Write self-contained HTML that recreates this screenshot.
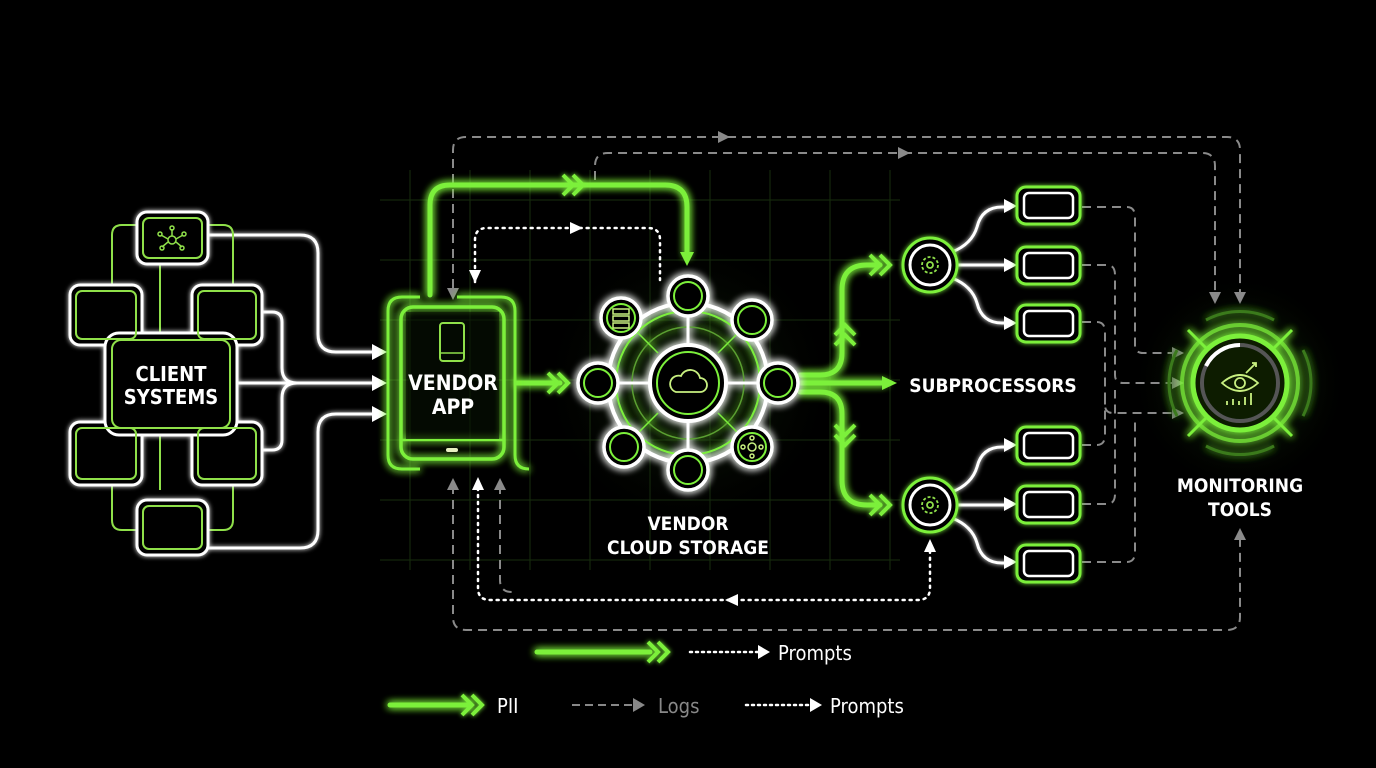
<!DOCTYPE html>
<html><head><meta charset="utf-8"><style>
html,body{margin:0;padding:0;background:#000;}
svg{display:block}
text{font-family:"DejaVu Sans Condensed","Liberation Sans",sans-serif;font-weight:bold;fill:#fff}
</style></head><body>
<svg width="1376" height="768" viewBox="0 0 1376 768" xmlns="http://www.w3.org/2000/svg">
<defs>
<filter id="g" x="-50%" y="-50%" width="200%" height="200%"><feGaussianBlur stdDeviation="4" result="b"/><feMerge><feMergeNode in="b"/><feMergeNode in="b"/><feMergeNode in="SourceGraphic"/></feMerge></filter>
<filter id="gs" x="-50%" y="-50%" width="200%" height="200%"><feGaussianBlur stdDeviation="2.5" result="b"/><feMerge><feMergeNode in="b"/><feMergeNode in="SourceGraphic"/></feMerge></filter>
<radialGradient id="mg" cx="50%" cy="50%" r="50%"><stop offset="0" stop-color="#3a8a1a" stop-opacity="0.5"/><stop offset="1" stop-color="#000" stop-opacity="0"/></radialGradient>
<radialGradient id="cg" cx="50%" cy="50%" r="50%"><stop offset="0" stop-color="#2a5a14" stop-opacity="0.5"/><stop offset="1" stop-color="#000" stop-opacity="0"/></radialGradient>
</defs>
<rect width="1376" height="768" fill="#000"/>
<!-- grid -->
<g stroke="#1d3a12" stroke-width="1" opacity="0.8">
<path d="M410 170V570M470 170V570M530 170V570M590 170V570M650 170V570M710 170V570M770 170V570M830 170V570M890 170V570"/>
<path d="M380 200H900M380 260H900M380 320H900M380 380H900M380 440H900M380 500H900M380 560H900"/>
</g>
<circle cx="688" cy="383" r="150" fill="url(#cg)"/>
<circle cx="1240" cy="383" r="110" fill="url(#mg)"/>

<!-- grey dashed logs -->
<g fill="none" stroke="#8a8a8a" stroke-width="2" stroke-dasharray="9 6">
<path d="M453 288V150q0-13 13-13H1227q13 0 13 13V295"/>
<path d="M595 180V166q0-13 13-13H1202q13 0 13 13V295"/>
<path d="M453 485V617q0 13 13 13H1227q13 0 13-13V535"/>
<path d="M500 485V580q0 12 12 12"/>
<path d="M1082 207h45q8 0 8 10V345q0 8 8 8h30"/>
<path d="M1082 265h25q8 0 8 10V375q0 8 8 8h50"/>
<path d="M1082 322h15q8 0 8 10V405q0 8 8 8h60"/>
<path d="M1082 445h15q8 0 8-10V395"/>
<path d="M1082 504h25q8 0 8-10V390"/>
<path d="M1082 562h45q8 0 8-10V420"/>
</g>
<g fill="#8a8a8a">
<path d="M718 131l12 6-12 6z"/><path d="M898 147l12 6-12 6z"/>
<path d="M1234 292l6 12 6-12z"/><path d="M1209 292l6 12 6-12z"/>
<path d="M1172 347l12 6-12 6z"/><path d="M1172 377l12 6-12 6z"/><path d="M1172 407l12 6-12 6z"/>
<path d="M447 288l6 12 6-12z"/><path d="M447 490l6-12 6 12z"/><path d="M494 490l6-12 6 12z"/>
<path d="M1234 540l6-12 6 12z"/>
</g>

<!-- dotted prompts -->
<g fill="none" stroke="#fff" stroke-width="2.5" stroke-dasharray="2 5" stroke-linecap="round">
<path d="M475 282V240q0-12 12-12H648q12 0 12 12V280"/>
<path d="M478 488V588q0 12 12 12H918q12 0 12-12V548"/>
</g>
<g fill="#fff">
<path d="M570 222l13 6-13 6z"/><path d="M469 270l6 13 6-13z"/>
<path d="M472 490l6-13 6 13z"/><path d="M738 594l-13 6 13 6z"/><path d="M924 552l6-13 6 13z"/>
</g>

<!-- white client connectors -->
<g fill="none" stroke="#fff" stroke-width="3" filter="url(#gs)">
<path d="M208 235H300q18 0 18 18V334q0 18 18 18H375"/>
<path d="M237 383H375"/>
<path d="M262 312h10q10 0 10 10V368q0 15 15 15"/>
<path d="M262 450h10q10 0 10-10V398q0-15 15-15"/>
<path d="M208 548H300q18 0 18-18V432q0-18 18-18H375"/>
</g>
<g fill="#fff"><path d="M372 344l15 8-15 8z"/><path d="M372 375l15 8-15 8z"/><path d="M372 406l15 8-15 8z"/></g>

<!-- client systems boxes -->
<g fill="none" stroke="#8fe04a" stroke-width="2">
<path d="M160 263V490M160 263"/>
<path d="M137 225H122q-10 0-10 10V285M208 225h15q10 0 10 10V285"/>
<path d="M137 530H122q-10 0-10-10V485M208 530h15q10 0 10-10V485"/>
</g>
<g filter="url(#gs)">
<g fill="#000" stroke="#fff" stroke-width="3">
<rect x="137" y="212" width="71" height="52" rx="10"/>
<rect x="70" y="285" width="72" height="60" rx="10"/>
<rect x="192" y="285" width="70" height="60" rx="10"/>
<rect x="70" y="422" width="72" height="63" rx="10"/>
<rect x="192" y="422" width="70" height="63" rx="10"/>
<rect x="137" y="500" width="71" height="55" rx="10"/>
<rect x="105" y="333" width="132" height="102" rx="14"/>
</g>
<g fill="none" stroke="#8fe04a" stroke-width="2">
<rect x="143" y="218" width="59" height="40" rx="6"/>
<rect x="76" y="291" width="60" height="48" rx="6"/>
<rect x="198" y="291" width="58" height="48" rx="6"/>
<rect x="76" y="428" width="60" height="51" rx="6"/>
<rect x="198" y="428" width="58" height="51" rx="6"/>
<rect x="143" y="506" width="59" height="43" rx="6"/>
<rect x="112" y="340" width="118" height="88" rx="9"/>
</g>
</g>
<g stroke="#8fe04a" stroke-width="1.5" fill="none">
<circle cx="172" cy="240" r="4"/><path d="M172 236l0-7M176 239l7-4M176 242l6 5M168 242l-6 5M168 239l-7-4M172 244v0"/>
<circle cx="172" cy="228" r="2"/><circle cx="184" cy="234" r="2"/><circle cx="182" cy="248" r="2"/><circle cx="162" cy="248" r="2"/><circle cx="160" cy="234" r="2"/>
</g>
<text x="171" y="381" font-size="20" text-anchor="middle">CLIENT</text>
<text x="171" y="404" font-size="20" text-anchor="middle">SYSTEMS</text>

<!-- green PII arrows -->
<g fill="none" stroke="#7cf03a" stroke-width="5" filter="url(#g)" stroke-linecap="round">
<path d="M430 295V205q0-20 20-20H665q22 0 22 22V255"/>
<path d="M517 383H560"/>
<path d="M800 375h20q22 0 22-22V290q0-25 25-25H880"/>
<path d="M800 392h20q22 0 22 22V480q0 25 25 25H880"/>
<path d="M800 383H885"/>
</g>
<g fill="none" stroke="#7cf03a" stroke-width="4" filter="url(#gs)">
<path d="M563 175l10 10-10 10M573 175l10 10-10 10"/>
<path d="M548 373l10 10-10 10M558 373l10 10-10 10"/>
<path d="M870 255l10 10-10 10M880 255l10 10-10 10"/>
<path d="M870 495l10 10-10 10M880 495l10 10-10 10"/>
<path d="M835 335l10-10 10 10M835 345l10-10 10 10"/>
<path d="M835 425l10 10 10-10M835 435l10 10 10-10"/>
</g>
<g fill="#7cf03a"><path d="M680 252l7 14 7-14z"/><path d="M882 376l15 7-15 7z"/></g>

<!-- vendor app -->
<g filter="url(#g)" fill="none" stroke="#7cf03a">
<path d="M420 297h-18q-14 0-14 14V455q0 14 14 14h18M457 297h44q14 0 14 14V455q0 14 14 14" stroke-width="3" />
<rect x="401" y="307" width="103" height="152" rx="12" stroke-width="3.5"/>
<path d="M401 440H504" stroke-width="2.5"/>
</g>
<rect x="406" y="312" width="93" height="127" fill="#061003" opacity="0.6"/>
<rect x="440" y="323" width="24" height="38" rx="3" fill="none" stroke="#8fe04a" stroke-width="2"/>
<path d="M440 353h24" stroke="#8fe04a" stroke-width="1.5"/>
<rect x="446" y="448" width="12" height="4" rx="2" fill="#e8f0c0"/>
<text x="453" y="390" font-size="21" text-anchor="middle">VENDOR</text>
<text x="453" y="414" font-size="21" text-anchor="middle">APP</text>

<!-- cloud storage -->
<g filter="url(#g)">
<circle cx="688" cy="383" r="80" fill="none" stroke="#fff" stroke-width="4"/>
<circle cx="688" cy="383" r="72" fill="none" stroke="#7cf03a" stroke-width="2"/>
<circle cx="688" cy="383" r="56" fill="none" stroke="#5aa030" stroke-width="1.5"/>
<g stroke="#fff" stroke-width="3">
<path d="M688 315V345M688 421V452M618 383H650M726 383H758"/>
<path d="M628 323l30 30M748 323l-30 30M628 443l30-30M748 443l-30-30" stroke="#7cf03a" stroke-width="1.5"/>
</g>
<circle cx="688" cy="383" r="38" fill="#000" stroke="#fff" stroke-width="4"/>
<circle cx="688" cy="383" r="31" fill="none" stroke="#7cf03a" stroke-width="2"/>
<g fill="#000" stroke="#fff" stroke-width="3.5">
<circle cx="688" cy="296" r="20"/><circle cx="688" cy="470" r="20"/>
<circle cx="598" cy="383" r="20"/><circle cx="778" cy="383" r="20"/>
<circle cx="621" cy="318" r="20"/><circle cx="752" cy="320" r="20"/>
<circle cx="624" cy="447" r="20"/><circle cx="752" cy="447" r="20"/>
</g>
<g fill="none" stroke="#7cf03a" stroke-width="2">
<circle cx="688" cy="296" r="14"/><circle cx="688" cy="470" r="14"/>
<circle cx="598" cy="383" r="14"/><circle cx="778" cy="383" r="14"/>
<circle cx="621" cy="318" r="14"/><circle cx="752" cy="320" r="14"/>
<circle cx="624" cy="447" r="14"/><circle cx="752" cy="447" r="14"/>
</g>
</g>
<path d="M676 392h24a7 7 0 0 0 0-14a10 10 0 0 0-19-2a8 8 0 0 0-5 16z" fill="none" stroke="#c8f080" stroke-width="1.8"/>
<g stroke="#c8f080" stroke-width="1.5" fill="none"><rect x="613" y="309" width="16" height="5"/><rect x="613" y="316" width="16" height="5"/><rect x="613" y="323" width="16" height="5"/>
<circle cx="752" cy="447" r="4"/><circle cx="752" cy="438" r="2"/><circle cx="752" cy="456" r="2"/><circle cx="743" cy="447" r="2"/><circle cx="761" cy="447" r="2"/></g>
<text x="688" y="530" font-size="19" text-anchor="middle">VENDOR</text>
<text x="688" y="554" font-size="19" text-anchor="middle">CLOUD STORAGE</text>

<!-- subprocessors -->
<g fill="none" stroke="#fff" stroke-width="3" filter="url(#gs)">
<path d="M952 252q20-8 25-25q5-20 25-20h8"/><path d="M955 265h55"/><path d="M952 278q20 8 25 25q5 20 25 20h8"/>
<path d="M952 492q20-8 25-25q5-20 25-20h8"/><path d="M955 505h55"/><path d="M952 518q20 8 25 25q5 20 25 20h8"/>
</g>
<g fill="#fff"><path d="M1004 199l13 7-13 7z"/><path d="M1004 258l13 7-13 7z"/><path d="M1004 316l13 7-13 7z"/><path d="M1004 438l13 7-13 7z"/><path d="M1004 497l13 7-13 7z"/><path d="M1004 555l13 7-13 7z"/></g>
<g filter="url(#gs)">
<circle cx="930" cy="265" r="27" fill="#000" stroke="#7cf03a" stroke-width="3"/><circle cx="930" cy="265" r="20" fill="none" stroke="#fff" stroke-width="3"/>
<circle cx="930" cy="505" r="27" fill="#000" stroke="#7cf03a" stroke-width="3"/><circle cx="930" cy="505" r="20" fill="none" stroke="#fff" stroke-width="3"/>
<g fill="#000" stroke="#7cf03a" stroke-width="3">
<rect x="1017" y="187" width="63" height="37" rx="9"/><rect x="1017" y="247" width="63" height="37" rx="9"/><rect x="1017" y="305" width="63" height="37" rx="9"/>
<rect x="1017" y="427" width="63" height="37" rx="9"/><rect x="1017" y="486" width="63" height="37" rx="9"/><rect x="1017" y="545" width="63" height="37" rx="9"/>
</g>
<g fill="none" stroke="#fff" stroke-width="2.5">
<rect x="1024" y="193" width="49" height="25" rx="5"/><rect x="1024" y="253" width="49" height="25" rx="5"/><rect x="1024" y="311" width="49" height="25" rx="5"/>
<rect x="1024" y="433" width="49" height="25" rx="5"/><rect x="1024" y="492" width="49" height="25" rx="5"/><rect x="1024" y="551" width="49" height="25" rx="5"/>
</g>
</g>
<g fill="none" stroke="#8fe04a" stroke-width="1.8"><circle cx="930" cy="265" r="8" stroke-dasharray="3 2"/><circle cx="930" cy="265" r="3"/><circle cx="930" cy="505" r="8" stroke-dasharray="3 2"/><circle cx="930" cy="505" r="3"/></g>
<text x="993" y="392" font-size="19" text-anchor="middle">SUBPROCESSORS</text>

<!-- monitoring -->
<g filter="url(#g)">
<circle cx="1240" cy="383" r="58" fill="none" stroke="#7cf03a" stroke-width="4" opacity="0.7"/>
<circle cx="1240" cy="383" r="47" fill="#0a1a05" stroke="#7cf03a" stroke-width="5"/>
<circle cx="1240" cy="383" r="38" fill="none" stroke="#555" stroke-width="4"/>
<path d="M1240 345a38 38 0 0 0-34 21" fill="none" stroke="#fff" stroke-width="4"/>
<path d="M1188 330l18 18M1292 330l-18 18M1188 436l18-18M1292 436l-18-18" stroke="#7cf03a" stroke-width="3"/>
<path d="M1206 320a72 72 0 0 1 68 0M1206 446a72 72 0 0 0 68 0M1303 350a72 72 0 0 1 0 66M1177 350a72 72 0 0 0 0 66" fill="none" stroke="#3a7a1a" stroke-width="3"/>
</g>
<g fill="none" stroke="#c8f080" stroke-width="1.8"><path d="M1222 383q18-16 36 0q-18 16-36 0z"/><circle cx="1240" cy="383" r="5"/><path d="M1246 373l10-10M1252 363h4v4"/><path d="M1227 405v-4M1233 405v-6M1239 405v-4M1245 405v-8M1251 405v-12"/></g>
<text x="1240" y="492" font-size="19" text-anchor="middle">MONITORING</text>
<text x="1240" y="516" font-size="19" text-anchor="middle">TOOLS</text>

<!-- legend -->
<g fill="none" stroke="#7cf03a" stroke-width="5" stroke-linecap="round" filter="url(#g)">
<path d="M537 652H650"/><path d="M390 705H470"/>
</g>
<g fill="none" stroke="#7cf03a" stroke-width="4" filter="url(#gs)">
<path d="M648 642l10 10-10 10M658 642l10 10-10 10"/><path d="M462 695l10 10-10 10M472 695l10 10-10 10"/>
</g>
<g fill="none" stroke="#fff" stroke-width="2.5" stroke-dasharray="2 4" stroke-linecap="round"><path d="M690 652H760"/><path d="M746 705H812"/></g>
<path d="M572 705H632" stroke="#888" stroke-width="2" stroke-dasharray="8 5"/>
<g fill="#fff"><path d="M758 645l12 7-12 7z"/><path d="M810 698l12 7-12 7z"/></g>
<path d="M633 698l12 7-12 7z" fill="#888"/>
<g style="font-weight:normal"><text x="778" y="660" font-size="20" font-weight="normal" style="font-weight:normal">Prompts</text>
<text x="497" y="713" font-size="20" style="font-weight:normal">PII</text>
<text x="658" y="713" font-size="20" style="font-weight:normal;fill:#888">Logs</text>
<text x="830" y="713" font-size="20" style="font-weight:normal">Prompts</text></g>
</svg>
</body></html>
